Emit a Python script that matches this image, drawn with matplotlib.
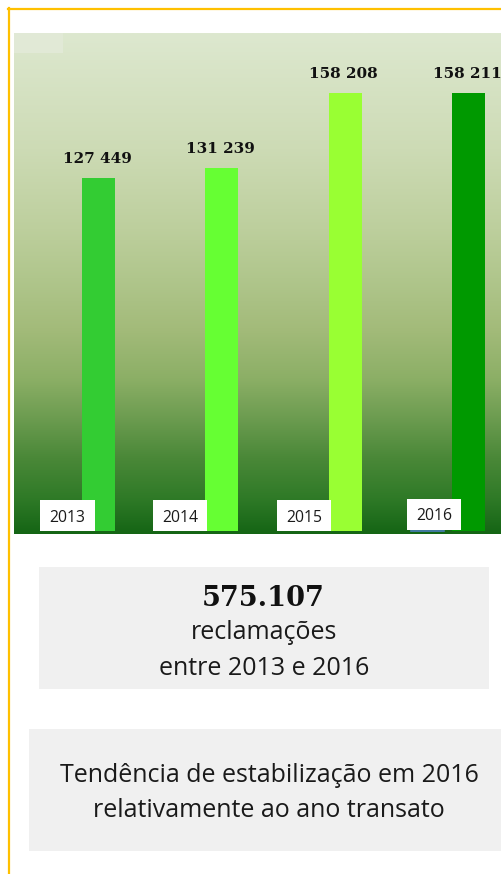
import numpy as np
import matplotlib
matplotlib.use("Agg")
import matplotlib.pyplot as plt
from matplotlib.colors import LinearSegmentedColormap
from matplotlib.patches import Rectangle
from matplotlib.lines import Line2D

W, H = 502, 874

years = ["2013", "2014", "2015", "2016"]
complaints = [127449, 131239, 158208, 158211]
bar_colors = ["#33CC33", "#66FF33", "#99FF33", "#009900"]
total_label = "575.107"
total_lines = ["reclamações", "entre 2013 e 2016"]
trend_lines = ["Tendência de estabilização em 2016", "relativamente ao ano transato"]

SERIF = ["DejaVu Serif"]
SANS = ["Open Sans", "DejaVu Sans"]


def fx(x):
    return x / W


def fy(y):
    return 1 - y / H


def fig_rect(fig, x0, y0, x1, y1, **kw):
    # rectangle given in top-left pixel coordinates
    r = Rectangle((fx(x0), fy(y1)), fx(x1 - x0), (y1 - y0) / H,
                  transform=fig.transFigure, **kw)
    fig.add_artist(r)
    return r


fig = plt.figure(figsize=(W / 100, H / 100), dpi=100)
fig.patch.set_facecolor("white")

# chart panel
px0, py0, px1, py1 = 14, 33, 502, 534
ax = fig.add_axes([fx(px0), fy(py1), fx(px1 - px0), (py1 - py0) / H])

bg = LinearSegmentedColormap.from_list("bg", [
    (0.00, "#dde8cf"),
    (0.23, "#cddbb5"),
    (0.39, "#bdcf9d"),
    (0.49, "#b0c68c"),
    (0.59, "#a3bb7a"),
    (0.69, "#8caf66"),
    (0.77, "#6c9c50"),
    (0.85, "#4a8838"),
    (0.93, "#2f7a27"),
    (1.00, "#156515"),
])
grad = np.linspace(0, 1, 256).reshape(-1, 1)
ax.imshow(grad, cmap=bg, aspect="auto", extent=[0, 1, 0, 1],
          transform=ax.transAxes, zorder=0)

x = np.arange(len(years))
unit_px = 123.3
ax.bar(x, complaints, width=33 / unit_px, color=bar_colors, zorder=2)
ax.set_xlim(-(98.5 - px0) / unit_px, -(98.5 - px0) / unit_px + (px1 - px0) / unit_px)
per_px = 158208 / 438.0
ax.set_ylim(-3 * per_px, (531 - py0) * per_px)
ax.axis("off")

for xi, v in zip(x, complaints):
    ax.annotate(f"{v:,}".replace(",", " "), (xi, v), xytext=(-1, 10.8),
                textcoords="offset points", ha="center", va="baseline",
                fontsize=11, fontweight="bold", family=SERIF, color="#111111",
                zorder=4, annotation_clip=False)

# slightly lighter notch in the panel's top-left corner
fig_rect(fig, 14, 33, 63, 53, facecolor="#e1e9d6", edgecolor="none", zorder=3)

# year tags sitting on the baseline, to the left of each bar
tag_boxes = [(40, 500, 95, 531), (153, 500, 207, 531),
             (277, 500, 331, 531), (407, 499, 461, 530)]
fig.add_artist(Line2D([fx(411), fx(444)], [fy(530.5), fy(530.5)],
                      transform=fig.transFigure, color="#4a7ebb", lw=1.2, zorder=4))
for yr, (x0, y0, x1, y1) in zip(years, tag_boxes):
    fig_rect(fig, x0, y0, x1, y1, facecolor="white", edgecolor="none", zorder=5)
    fig.text(fx((x0 + x1) / 2), fy((y0 + y1) / 2 + 2), yr, ha="center", va="center",
             fontsize=11.3, family=SANS, color="#1a1a1a", zorder=6)

# summary boxes
fig_rect(fig, 39, 567, 489, 689, facecolor="#f0f0f0", edgecolor="none", zorder=1)
fig.text(fx(263.5), fy(606), total_label, ha="center", va="baseline",
         fontsize=19.5, fontweight="bold", family=SERIF, color="#111111")
for line, base in zip(total_lines, [639, 675]):
    fig.text(fx(264), fy(base), line, ha="center", va="baseline",
             fontsize=18, family=SANS, color="#1a1a1a")

fig_rect(fig, 29, 729, 502, 851, facecolor="#f0f0f0", edgecolor="none", zorder=1)
for line, base in zip(trend_lines, [782, 817]):
    fig.text(fx(269), fy(base), line, ha="center", va="baseline",
             fontsize=18, family=SANS, color="#1a1a1a")

# yellow frame: top and left edges
frame = "#FFC000"
fig.add_artist(Line2D([fx(8), fx(502)], [fy(8.5), fy(8.5)],
                      transform=fig.transFigure, color=frame, lw=1.6, zorder=7))
fig.add_artist(Line2D([fx(9), fx(9)], [fy(8), fy(874)],
                      transform=fig.transFigure, color=frame, lw=1.6, zorder=7))

fig.savefig("out.png", dpi=100)
